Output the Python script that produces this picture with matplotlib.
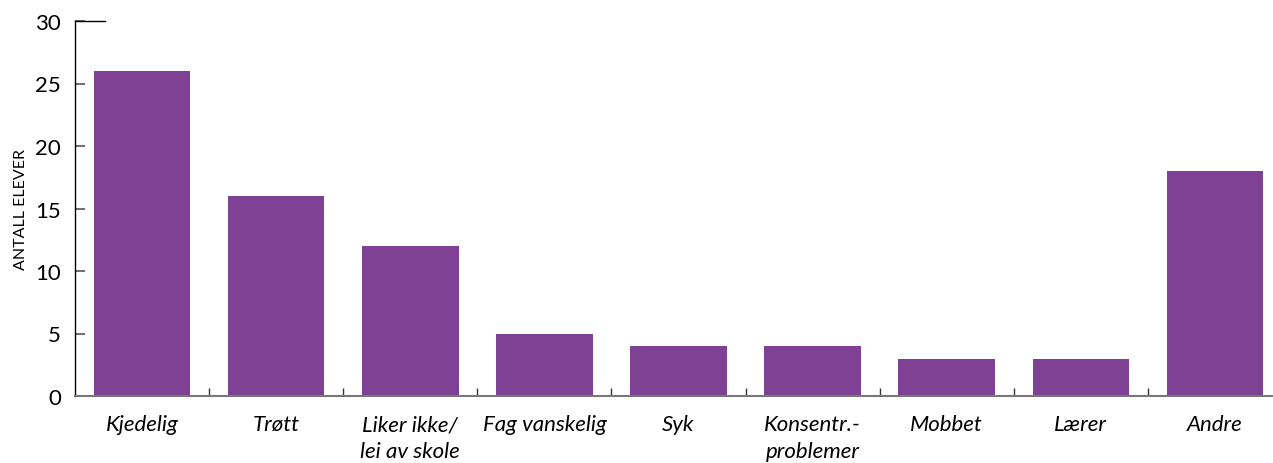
import matplotlib.pyplot as plt
import numpy as np

plt.rcParams['font.family'] = ['Lato', 'DejaVu Sans']

categories = ['Kjedelig', 'Trøtt', 'Liker ikke/\nlei av skole', 'Fag vanskelig', 'Syk',
              'Konsentr.-\nproblemer', 'Mobbet', 'Lærer', 'Andre']
values = [26, 16, 12, 5, 4, 4, 3, 3, 18]
yticks = [0, 5, 10, 15, 20, 25, 30]

fig = plt.figure(figsize=(12.73, 4.64), dpi=100)
ax = fig.add_axes([75 / 1273, 67 / 464, 1207 / 1273, 375 / 464])

x = np.arange(len(categories))
ax.bar(x, values, width=0.72, color='#7f4194', zorder=2)

ax.set_xlim(-0.5, len(categories) - 0.5)
ax.set_ylim(0, 30)

ax.spines['top'].set_visible(False)
ax.spines['right'].set_visible(False)
ax.spines['left'].set_color('black')
ax.spines['left'].set_linewidth(1.0)
ax.spines['bottom'].set_color('#777777')
ax.spines['bottom'].set_linewidth(1.5)

ax.set_yticks(yticks)
ax.set_yticklabels([str(t) for t in yticks], fontsize=16)
ax.tick_params(axis='y', direction='in', length=7, width=1.2, color='#555555', pad=10)
# longer top tick at 30
ax.plot([-0.5, -0.28], [30, 30], color='black', lw=1, clip_on=False, zorder=3)

ax.set_xticks(x[:-1] + 0.5)
ax.set_xticklabels([])
ax.tick_params(axis='x', which='major', direction='in', length=6, width=1, color='#333333')
ax.set_xticks(x, minor=True)
ax.set_xticklabels(categories, minor=True, fontsize=16, style='italic', linespacing=1.45,
                   va='top')
ax.tick_params(axis='x', which='minor', length=0, pad=13)

ax.set_ylabel('ANTALL ELEVER', fontsize=11.5)
ax.yaxis.set_label_coords(-0.039, 0.5)

fig.savefig('out.png', dpi=100)
